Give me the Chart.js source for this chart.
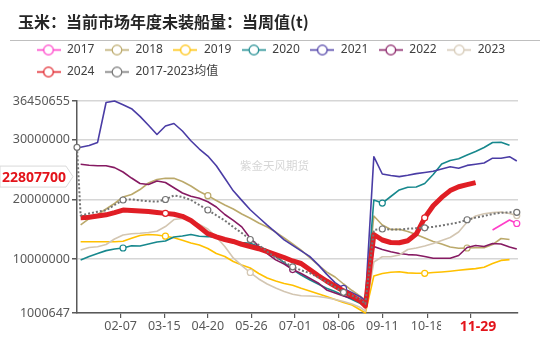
<!DOCTYPE html>
<html>
<head>
<meta charset="utf-8">
<script src="https://cdn.jsdelivr.net/npm/chart.js@4.4.1/dist/chart.umd.min.js"></script>
<style>
  html, body { margin: 0; padding: 0; background: #fff; }
  #wrap { width: 550px; height: 339px; position: relative; }
</style>
</head>
<body>
<div id="wrap"><canvas id="cornChart"></canvas></div>
<script>
// weekly report dates (MM-DD), shared by all years
var weeks = ['01-02', '01-05', '01-12', '01-19', '01-26', '02-02', '02-09', '02-16', '02-23', '03-02',
  '03-09', '03-16', '03-23', '03-30', '04-06', '04-13', '04-20', '04-27', '05-04', '05-11',
  '05-18', '05-25', '06-01', '06-08', '06-15', '06-22', '06-29', '07-06', '07-13', '07-20',
  '07-27', '08-03', '08-10', '08-17', '08-24', '08-28', '09-04', '09-11', '09-18', '09-25',
  '10-02', '10-09', '10-16', '10-23', '10-30', '11-06', '11-13', '11-20', '11-27', '12-04',
  '12-11', '12-18', '12-25', '12-31'];

// outstanding sales, tonnes
var s2017 = [14880000, 15720000, 16550000, 15970000]; // from 12-11 only
var s2018 = [null, 15720000, 16800000, 17470000, 18390000, 19310000, 20400000, 20810000, 21650000, 22740000,
  23320000, 23520000, 23520000, 22990000, 22240000, 21320000, 20620000, 19810000, 19060000, 18390000,
  17550000, 16840000, 16050000, 15380000, 14540000, 13540000, 12540000, 11530000, 10280000, 9030000,
  7860000, 7020000, 5850000, 4760000, 3760000, 3170000, 17220000, 15720000, 14960000, 15000000,
  14630000, 14130000, 13540000, 12960000, 12540000, 12040000, 11820000, 11870000, 11920000, 11920000,
  12450000, 13460000, 13290000];
var s2019 = [null, 12920000, 12920000, 12920000, 12920000, 12920000, 13000000, 13490000, 13960000, 14130000,
  14040000, 13840000, 13590000, 13160000, 12710000, 12370000, 11790000, 10950000, 10450000, 9610000,
  9030000, 8520000, 7610000, 6850000, 6350000, 5930000, 5630000, 5130000, 4680000, 4230000,
  3760000, 3260000, 2760000, 2340000, 1500000, 1000647, 7190000, 7610000, 7810000, 7890000,
  7710000, 7640000, 7640000, 7760000, 7860000, 7990000, 8140000, 8290000, 8420000, 8660000,
  9280000, 9800000, 9930000];
var s2020 = [null, 9860000, 10450000, 10950000, 11430000, 11700000, 11870000, 12250000, 12200000, 12540000,
  12870000, 13040000, 13710000, 13880000, 14130000, 13830000, 13780000, 13630000, 13210000, 12960000,
  12790000, 12660000, 12120000, 11530000, 10450000, 9440000, 8270000, 7350000, 6570000, 5850000,
  5130000, 4600000, 3930000, 3270000, 2590000, 2050000, 19900000, 19390000, 20480000, 21570000,
  22040000, 22070000, 22650000, 24160000, 25920000, 26500000, 26800000, 27420000, 28000000, 28680000,
  29510000, 29550000, 29040000];
var s2021 = [28710000, 28710000, 29000000, 29530000, 36200000, 36450655, 35830000, 35160000, 33880000, 32400000,
  30850000, 32270000, 32690000, 31430000, 29810000, 28420000, 27250000, 25630000, 23540000, 21430000,
  19830000, 18270000, 16970000, 15680000, 14480000, 13240000, 12300000, 11400000, 10480000, 9090000,
  7500000, 6080000, 5110000, 4410000, 3680000, 3000000, 27140000, 24240000, 23990000, 23800000,
  24030000, 24310000, 24490000, 24700000, 25080000, 25460000, 25200000, 25680000, 25880000, 26080000,
  26890000, 26870000, 27140000, 26420000];
var s2022 = [null, 25870000, 25700000, 25630000, 25630000, 25310000, 24580000, 23570000, 22660000, 22490000,
  23070000, 22820000, 21940000, 21070000, 20530000, 20180000, 19610000, 18730000, 17470000, 16500000,
  15400000, 13510000, 12150000, 10950000, 9880000, 9190000, 8270000, 7610000, 6800000, 6020000,
  4850000, 4340000, 3840000, 3420000, 2840000, 2340000, 12120000, 11620000, 11230000, 10950000,
  10770000, 10700000, 10450000, 10150000, 10150000, 10150000, 10620000, 11950000, 12290000, 12120000,
  12620000, 12540000, 12040000, 11700000];
var s2023 = [null, 11530000, 11950000, 12090000, 12450000, 13370000, 14040000, 14260000, 14330000, 14460000,
  14680000, 15460000, 16630000, 16800000, 16470000, 15800000, 15050000, 13710000, 12120000, 10210000,
  8940000, 7770000, 6690000, 5850000, 5180000, 4600000, 4140000, 3880000, 3840000, 3760000,
  3540000, 3260000, 2920000, 2500000, 1920000, 1330000, 9530000, 10410000, 10410000, 10700000,
  11620000, 11870000, 12200000, 12620000, 13120000, 13630000, 14540000, 16220000, 17220000, 17610000,
  17780000, 17890000, 17640000, 17300000];
var s2024 = [null, 16940000, 17020000, 17210000, 17420000, 17790000, 18210000, 18160000, 18070000, 17970000,
  17810000, 17660000, 17520000, 17170000, 16470000, 15380000, 14260000, 13740000, 13290000, 12960000,
  12490000, 12120000, 11750000, 11250000, 10780000, 10280000, 9700000, 9280000, 8270000, 7270000,
  6350000, 5510000, 4680000, 3840000, 3000000, 2170000, 14130000, 13210000, 12790000, 12740000,
  13090000, 14200000, 16920000, 18930000, 20330000, 21470000, 22120000, 22470000, 22807700];
var avg1723 = [28710000, 17300000, 17640000, 17940000, 18170000, 19060000, 19900000, 20010000, 19830000, 19680000,
  19630000, 19980000, 20650000, 20410000, 19900000, 19060000, 18220000, 17340000, 16470000, 15380000,
  14380000, 13290000, 12370000, 11250000, 10280000, 9530000, 8730000, 8140000, 7690000, 6970000,
  6180000, 5350000, 4460000, 3930000, 3260000, 2510000, 14880000, 15050000, 14950000, 14950000,
  15100000, 15180000, 15250000, 15400000, 15630000, 15880000, 16150000, 16590000, 16950000, 17220000,
  17560000, 17760000, 17840000, 17840000];

var tickDates = ['02-07', '03-15', '04-20', '05-26', '07-01', '08-06', '09-11', '10-18', '11-23'];
var tickLabels = ['02-07', '03-15', '04-20', '05-26', '07-01', '08-06', '09-11', '10-18', ''];
var yTicks = [1000647, 10000000, 20000000, 30000000, 36450655];
var latestDate = '11-29';

var FONT = "'Noto Sans', 'Noto Sans CJK SC', sans-serif";

function dayOfYear(md) {
  var p = md.split('-');
  return (Date.UTC(2023, +p[0] - 1, +p[1]) - Date.UTC(2023, 0, 1)) / 86400000 + 1;
}

function points(dates, values) {
  return values.map(function (v, i) { return { x: dayOfYear(dates[i]), y: v }; });
}

// little "—o—" swatch for the legend
function legendIcon(color) {
  var c = document.createElement('canvas');
  c.width = 24; c.height = 13;
  var g = c.getContext('2d');
  g.strokeStyle = color;
  g.lineWidth = 1.5;
  g.beginPath(); g.moveTo(0, 6.5); g.lineTo(24, 6.5); g.stroke();
  g.beginPath(); g.arc(12, 6.5, 4.8, 0, Math.PI * 2);
  g.fillStyle = '#fff'; g.fill();
  g.lineWidth = 1.2; g.stroke();
  return c;
}

function series(label, dates, values, color, markers, extra) {
  return Object.assign({
    label: label,
    data: points(dates, values),
    borderColor: color,
    backgroundColor: '#fff',
    borderWidth: 1.6,
    borderJoinStyle: 'round',
    pointRadius: function (c) { return markers.indexOf(c.dataIndex) >= 0 ? 3 : 0; },
    pointHoverRadius: 0,
    pointBackgroundColor: '#fff',
    pointBorderColor: color,
    pointBorderWidth: 1.2,
    tension: 0,
    clip: 5
  }, extra || {});
}

var datasets = [
  series('2017', weeks.slice(50), s2017, '#FF3DC8', [3], { order: 9 }),
  series('2018', weeks, s2018, '#BBA96B', [16, 47], { order: 8 }),
  series('2019', weeks, s2019, '#FFC000', [11, 42], { order: 7 }),
  series('2020', weeks, s2020, '#17888D', [6, 37], { order: 6 }),
  series('2021', weeks, s2021, '#4A3CA5', [32], { order: 5 }),
  series('2022', weeks, s2022, '#861A62', [26], { order: 4 }),
  series('2023', weeks, s2023, '#D3C6B2', [21, 53], { order: 3 }),
  series('2024', weeks, s2024, '#E01E25', [11, 42], { order: 1, borderWidth: 5 }),
  series('2017-2023均值', weeks, avg1723, '#747474', [0, 6, 11, 16, 21, 26, 32, 37, 42, 47, 53],
    { order: 0, borderWidth: 2, borderDash: [2, 2], borderCapStyle: 'butt' })
];

// legend: a bit more room below it, and indented past the axis labels
var legendBox = {
  id: 'legendBox',
  beforeInit: function (chart) {
    var fit = chart.legend.fit;
    chart.legend.fit = function () {
      fit.call(this);
      this.height += 13;
    };
  },
  afterLayout: function (chart) {
    chart.legend.left += 18;
  }
};

// title, rule under it, watermark and the two red call-outs
var decorations = {
  id: 'decorations',
  beforeDatasetsDraw: function (chart) {
    var ctx = chart.ctx;
    ctx.save();
    ctx.font = "11.5px 'Noto Sans CJK SC'";
    ctx.fillStyle = '#D6D6D6';
    ctx.textBaseline = 'middle';
    ctx.fillText('紫金天风期货', 240, 166);
    ctx.restore();
  },
  afterDraw: function (chart) {
    var ctx = chart.ctx;
    var area = chart.chartArea;
    ctx.save();

    ctx.font = "bold 16px 'Noto Sans CJK SC'";
    ctx.fillStyle = '#262626';
    ctx.textBaseline = 'middle';
    ctx.fillText('玉米：当前市场年度未装船量：当周值(t)', 18, 22);

    ctx.strokeStyle = '#BFBFBF';
    ctx.lineWidth = 1;
    ctx.beginPath(); ctx.moveTo(10, 40.5); ctx.lineTo(540, 40.5); ctx.stroke();

    // latest value box, pointing at the y axis
    var latest = s2024[s2024.length - 1];
    var py = chart.scales.y.getPixelForValue(latest) - 6;
    var tip = area.left - 4;
    ctx.beginPath();
    ctx.moveTo(0, py - 10.5);
    ctx.lineTo(tip - 7, py - 10.5);
    ctx.lineTo(tip, py);
    ctx.lineTo(tip - 7, py + 10.5);
    ctx.lineTo(0, py + 10.5);
    ctx.closePath();
    ctx.fillStyle = '#fff';
    ctx.fill();
    ctx.strokeStyle = '#D9D9D9';
    ctx.stroke();
    ctx.font = "bold 14px 'Noto Sans'";
    ctx.fillStyle = '#E3141B';
    ctx.textAlign = 'center';
    ctx.fillText(String(latest), 34, py + 1);

    // latest date on the x axis
    var px = chart.scales.x.getPixelForValue(dayOfYear(latestDate));
    ctx.fillStyle = '#fff';
    ctx.fillRect(px - 37, area.bottom + 6, 74, 18);
    ctx.fillStyle = '#E3141B';
    ctx.fillText(latestDate, px, area.bottom + 14);

    ctx.restore();
  }
};

var ctx = document.getElementById('cornChart').getContext('2d');

var cornChart = new Chart(ctx, {
  type: 'line',
  data: { datasets: datasets },
  plugins: [legendBox, decorations],
  options: {
    responsive: true,
    maintainAspectRatio: false,
    animation: false,
    layout: {
      padding: { left: 8, right: 32, top: 34, bottom: 4 }
    },
    plugins: {
      legend: {
        position: 'top',
        align: 'start',
        labels: {
          usePointStyle: true,
          pointStyleWidth: 25,
          padding: 10,
          color: '#404040',
          font: { size: 12, family: FONT },
          generateLabels: function (chart) {
            return chart.data.datasets.map(function (ds, i) {
              return {
                text: ds.label,
                datasetIndex: i,
                pointStyle: legendIcon(ds.borderColor),
                fillStyle: '#fff',
                strokeStyle: ds.borderColor,
                lineWidth: 0,
                fontColor: '#404040',
                hidden: false
              };
            });
          }
        }
      },
      tooltip: { enabled: false }
    },
    scales: {
      x: {
        type: 'linear',
        min: 2,
        max: 366,
        afterBuildTicks: function (axis) {
          axis.ticks = tickDates.map(function (d) { return { value: dayOfYear(d) }; });
        },
        ticks: {
          autoSkip: false,
          maxRotation: 0,
          padding: 1,
          color: '#595959',
          font: { size: 12.5, family: FONT },
          callback: function (value) {
            for (var i = 0; i < tickDates.length; i++) {
              if (dayOfYear(tickDates[i]) === value) return tickLabels[i];
            }
            return '';
          }
        },
        grid: {
          drawOnChartArea: false,
          drawTicks: true,
          tickLength: 5,
          tickColor: '#595959',
          lineWidth: 1.2
        },
        border: { color: '#595959', width: 1.5 }
      },
      y: {
        min: 1000647,
        max: 36450655,
        afterBuildTicks: function (axis) {
          axis.ticks = yTicks.map(function (v) { return { value: v }; });
        },
        afterFit: function (scale) {
          scale.width = 69;
        },
        ticks: {
          padding: 2,
          color: '#595959',
          font: { size: 12.5, family: FONT },
          callback: function (value) { return String(value); }
        },
        grid: {
          color: '#D6D6D6',
          lineWidth: 1.5,
          tickLength: 5,
          tickColor: '#595959'
        },
        border: { color: '#595959', width: 1.5 }
      }
    }
  }
});
</script>
</body>
</html>
